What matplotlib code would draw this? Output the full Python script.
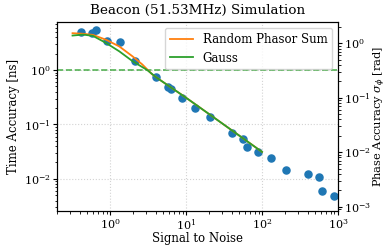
import numpy as np
import matplotlib
matplotlib.use("Agg")
import matplotlib.pyplot as plt

plt.rcParams['font.family'] = 'DejaVu Serif'
plt.rcParams['mathtext.fontset'] = 'dejavuserif'
plt.rcParams['font.size'] = 8.5
plt.rcParams['xtick.labelsize'] = 8
plt.rcParams['ytick.labelsize'] = 8
plt.rcParams['xtick.major.pad'] = 1.5
plt.rcParams['ytick.major.pad'] = 1.5
plt.rcParams['xtick.major.size'] = 3
plt.rcParams['ytick.major.size'] = 3
plt.rcParams['xtick.minor.size'] = 1.8
plt.rcParams['ytick.minor.size'] = 1.8

# beacon frequency in GHz (time in ns -> phase in rad)
f_beacon = 0.05153

# simulated points (SNR, time accuracy in ns)
snr = [0.41, 0.577, 0.644, 0.914, 1.35, 2.11, 4.03, 5.72, 6.3, 8.87, 13.2, 20.7,
       40.3, 56.6, 62.5, 89.5, 132, 209, 399, 567, 625, 887]
t_acc = [5.09, 4.76, 5.46, 3.35, 3.22, 1.46, 0.747, 0.48, 0.44, 0.31, 0.202, 0.137,
         0.0684, 0.0532, 0.0393, 0.031, 0.0241, 0.0144, 0.0124, 0.0108, 0.0061, 0.0048]

# model curves
snr_phasor = [0.32, 0.44, 0.594, 0.887, 1.32, 1.97, 2.65, 3.57, 5.0, 10, 20, 50, 100]
t_phasor = [4.76, 4.65, 4.43, 3.60, 2.72, 1.79, 1.27, 0.836, 0.60, 0.31, 0.156, 0.0626, 0.0313]

snr_gauss = [0.32, 0.441, 0.594, 0.887, 1.32, 1.97, 3.08, 4.11, 5.0, 10, 20, 50, 100]
t_gauss = [4.31, 4.49, 4.25, 3.14, 2.21, 1.46, 1.0, 0.722, 0.60, 0.31, 0.156, 0.0626, 0.0313]

fig = plt.figure(figsize=(3.88, 2.45), dpi=100)
ax = fig.add_axes([0.147, 0.137, 0.724, 0.773])

ax.scatter(snr, t_acc, s=26, color='C0', zorder=2)
ax.plot(snr_phasor, t_phasor, color='C1', lw=1.3, label='Random Phasor Sum', zorder=3)
ax.plot(snr_gauss, t_gauss, color='C2', lw=1.3, label='Gauss', zorder=3)
ax.axhline(1.0, color='C2', ls='--', lw=1.2, alpha=0.8)

ax.set_xscale('log')
ax.set_yscale('log')
ax.set_xlim(0.2, 1000)
ax.set_ylim(0.00252, 7.63)
ax.grid(True, which='major', ls=':', color='lightgray')
ax.set_title('Beacon (51.53MHz) Simulation', fontsize=9.7)
ax.set_xlabel('Signal to Noise', labelpad=0)
ax.set_ylabel('Time Accuracy [ns]', labelpad=3)
ax.legend(loc='upper right', fontsize=8.5)

ax2 = ax.twinx()
ax2.set_yscale('log')
lo, hi = ax.get_ylim()
ax2.set_ylim(lo * 2 * np.pi * f_beacon, hi * 2 * np.pi * f_beacon)
ax2.set_ylabel(r'Phase Accuracy $\sigma_\phi$ [rad]', labelpad=0.5, fontsize=8.2)

fig.savefig('out.png', dpi=100)
